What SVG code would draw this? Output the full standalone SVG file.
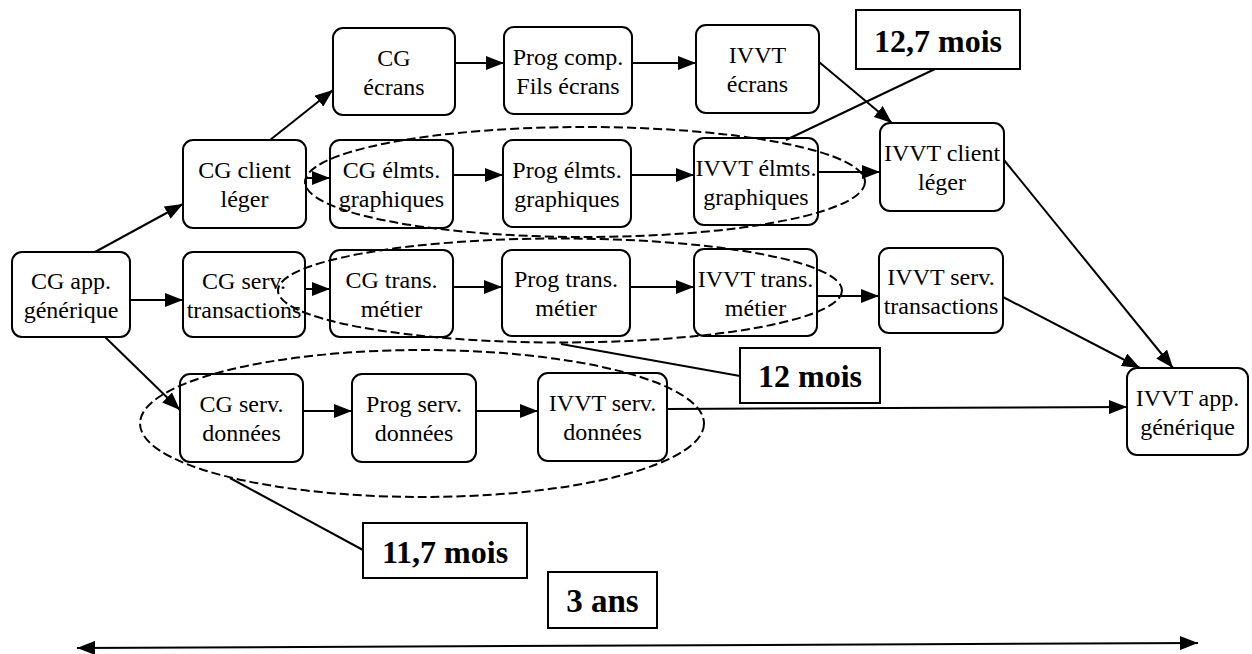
<svg xmlns="http://www.w3.org/2000/svg" width="1252" height="654" viewBox="0 0 1252 654">
<defs>
<marker id="ah" viewBox="0 0 18 14" refX="18" refY="7" markerWidth="18" markerHeight="14" orient="auto-start-reverse" markerUnits="userSpaceOnUse"><path d="M0,0 L18,7 L0,14 z" fill="#000"/></marker>
</defs>
<style>
.node rect{fill:#fff;stroke:#000;stroke-width:2}
.node text{font-family:'Liberation Serif','DejaVu Serif',serif;font-size:24px;text-anchor:middle;fill:#000}
.lbl rect{fill:#fff;stroke:#000;stroke-width:2}
.lbl text{font-family:'Liberation Serif','DejaVu Serif',serif;font-size:32px;font-weight:bold;text-anchor:middle;fill:#000}
.c line{stroke:#000;stroke-width:2;fill:none}
.c .a{marker-end:url(#ah)}
.ell{fill:none;stroke:#000;stroke-width:2;stroke-dasharray:9 4}
</style>
<rect width="1252" height="654" fill="#fff"/>
<g id="nodes">
<g id="n_cg_app" class="node"><rect x="12" y="252" width="118" height="85" rx="10"/><text x="71" y="288.5">CG app.</text><text x="71" y="317.5">générique</text></g>
<g id="n_cg_client" class="node"><rect x="183" y="140" width="123" height="88" rx="10"/><text x="244.5" y="178">CG client</text><text x="244.5" y="207">léger</text></g>
<g id="n_cg_ecrans" class="node"><rect x="333" y="28" width="122" height="87" rx="10"/><text x="394" y="65.5">CG</text><text x="394" y="94.5">écrans</text></g>
<g id="n_prog_comp" class="node"><rect x="504" y="27" width="128" height="87" rx="10"/><text x="568" y="64.5">Prog comp.</text><text x="568" y="93.5">Fils écrans</text></g>
<g id="n_ivvt_ecrans" class="node"><rect x="696" y="25" width="123" height="88" rx="10"/><text x="757.5" y="63">IVVT</text><text x="757.5" y="92">écrans</text></g>
<g id="n_cg_elmts" class="node"><rect x="330" y="140" width="123" height="88" rx="10"/><text x="391.5" y="178">CG élmts.</text><text x="391.5" y="207">graphiques</text></g>
<g id="n_prog_elmts" class="node"><rect x="503" y="140" width="128" height="87" rx="10"/><text x="567" y="177.5">Prog élmts.</text><text x="567" y="206.5">graphiques</text></g>
<g id="n_ivvt_elmts" class="node"><rect x="694" y="138" width="124" height="87" rx="10"/><text x="756" y="175.5">IVVT élmts.</text><text x="756" y="204.5">graphiques</text></g>
<g id="n_ivvt_client" class="node"><rect x="880" y="123" width="124" height="88" rx="10"/><text x="942" y="161">IVVT client</text><text x="942" y="190">léger</text></g>
<g id="n_cg_serv_trans" class="node"><rect x="183" y="252" width="122" height="85" rx="10"/><text x="244" y="288.5">CG serv.</text><text x="244" y="317.5">transactions</text></g>
<g id="n_cg_trans" class="node"><rect x="330" y="250" width="123" height="87" rx="10"/><text x="391.5" y="287.5">CG trans.</text><text x="391.5" y="316.5">métier</text></g>
<g id="n_prog_trans" class="node"><rect x="502" y="250" width="128" height="86" rx="10"/><text x="566" y="287">Prog trans.</text><text x="566" y="316">métier</text></g>
<g id="n_ivvt_trans" class="node"><rect x="694" y="249" width="123" height="87" rx="10"/><text x="755.5" y="286.5">IVVT trans.</text><text x="755.5" y="315.5">métier</text></g>
<g id="n_ivvt_serv_trans" class="node"><rect x="879" y="248" width="124" height="85" rx="10"/><text x="941" y="284.5">IVVT serv.</text><text x="941" y="313.5">transactions</text></g>
<g id="n_ivvt_app" class="node"><rect x="1127" y="368" width="121" height="87" rx="10"/><text x="1187.5" y="405.5">IVVT app.</text><text x="1187.5" y="434.5">générique</text></g>
<g id="n_cg_serv_don" class="node"><rect x="180" y="374" width="123" height="88" rx="10"/><text x="241.5" y="412">CG serv.</text><text x="241.5" y="441">données</text></g>
<g id="n_prog_serv_don" class="node"><rect x="352" y="374" width="124" height="88" rx="10"/><text x="414" y="412">Prog serv.</text><text x="414" y="441">données</text></g>
<g id="n_ivvt_serv_don" class="node"><rect x="538" y="373" width="129" height="88" rx="10"/><text x="602.5" y="411">IVVT serv.</text><text x="602.5" y="440">données</text></g>
</g>
<g id="groups">
<ellipse class="ell" cx="585" cy="182" rx="280" ry="55"/>
<ellipse class="ell" cx="560" cy="290.5" rx="282" ry="52"/>
<ellipse class="ell" cx="422" cy="423.5" rx="282" ry="73.5"/>
</g>
<g id="connectors" class="c">
<line class="a" x1="95" y1="252" x2="183" y2="204"/>
<line class="a" x1="270" y1="140" x2="333" y2="90"/>
<line class="a" x1="306" y1="178" x2="330" y2="178"/>
<line class="a" x1="455" y1="63" x2="504" y2="63"/>
<line class="a" x1="632" y1="63" x2="696" y2="63"/>
<line class="a" x1="819" y1="62" x2="892" y2="123"/>
<line class="a" x1="453" y1="175" x2="503" y2="175"/>
<line class="a" x1="631" y1="175" x2="694" y2="175"/>
<line class="a" x1="818" y1="172" x2="880" y2="172"/>
<line class="a" x1="1004" y1="160" x2="1173" y2="368"/>
<line class="a" x1="130" y1="300" x2="183" y2="300"/>
<line class="a" x1="305" y1="289" x2="330" y2="289"/>
<line class="a" x1="453" y1="287" x2="502" y2="287"/>
<line class="a" x1="630" y1="287" x2="694" y2="287"/>
<line class="a" x1="817" y1="296" x2="879" y2="296"/>
<line class="a" x1="1003" y1="297" x2="1140" y2="368"/>
<line class="a" x1="105" y1="337" x2="180" y2="410"/>
<line class="a" x1="303" y1="411" x2="352" y2="411"/>
<line class="a" x1="476" y1="411" x2="538" y2="411"/>
<line class="a" x1="667" y1="409" x2="1127" y2="407"/>
<line x1="935" y1="69" x2="786" y2="140"/>
<line x1="740" y1="376" x2="561" y2="344"/>
<line x1="363" y1="550" x2="230" y2="478"/>
<line x1="77" y1="648" x2="1198" y2="643" marker-start="url(#ah)" marker-end="url(#ah)"/>
</g>
<g id="labels">
<g id="l_127" class="lbl"><rect x="856" y="10" width="164" height="59"/><text x="938" y="52">12,7 mois</text></g>
<g id="l_12" class="lbl"><rect x="740" y="348" width="140" height="55"/><text x="810" y="387">12 mois</text></g>
<g id="l_117" class="lbl"><rect x="363" y="523" width="164" height="55"/><text x="445" y="563">11,7 mois</text></g>
<g id="l_3ans" class="lbl"><rect x="548" y="572" width="109" height="56"/><text x="602.5" y="612" style="font-size:33px">3 ans</text></g>
</g>
</svg>
